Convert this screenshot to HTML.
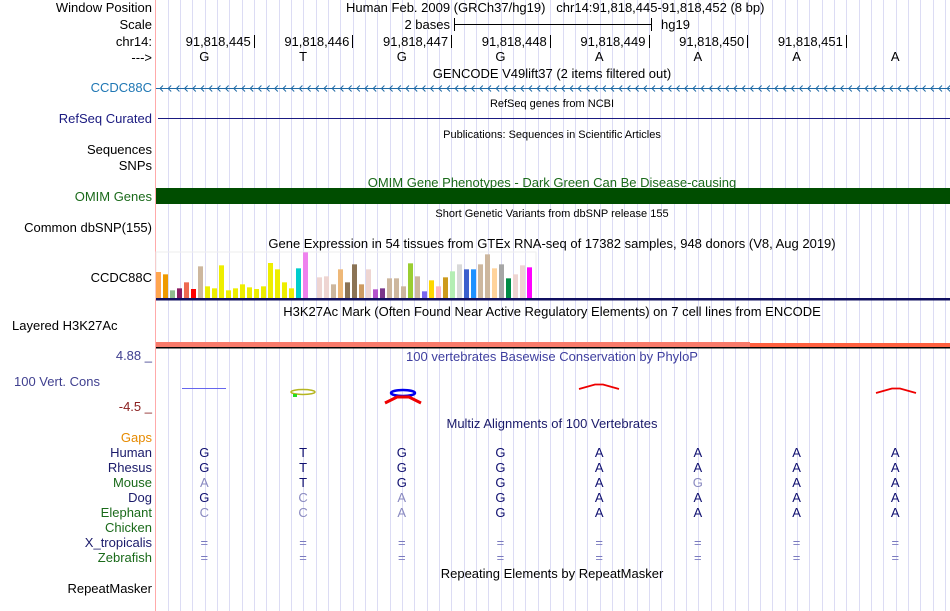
<!DOCTYPE html>
<html><head><meta charset="utf-8">
<style>
html,body{margin:0;padding:0;background:#fff;}
svg{display:block;font-family:"Liberation Sans",Arial,sans-serif;}
</style></head>
<body>
<svg id="c" width="950" height="611" viewBox="0 0 950 611">
<g id="grid"></g>
<line x1="155.5" y1="0" x2="155.5" y2="611" stroke="#ffaaaa"/>

<g font-size="13" text-anchor="end">
<text x="152" y="12" fill="#000">Window Position</text>
<text x="152" y="29" fill="#000">Scale</text>
<text x="152" y="46" fill="#000">chr14:</text>
<text x="152" y="62" fill="#000">---&gt;</text>
<text x="152" y="92" fill="#1f77b4">CCDC88C</text>
<text x="152" y="123" fill="#1a1a80">RefSeq Curated</text>
<text x="152" y="154" fill="#000">Sequences</text>
<text x="152" y="170" fill="#000">SNPs</text>
<text x="152" y="201" fill="#1a6a1a">OMIM Genes</text>
<text x="152" y="232" fill="#000">Common dbSNP(155)</text>
<text x="152" y="282" fill="#000">CCDC88C</text>
<text x="12" y="330" text-anchor="start" fill="#000">Layered H3K27Ac</text>
<text x="152" y="360" fill="#3f3f8f">4.88 _</text>
<text x="100" y="386" fill="#3f3f8f">100 Vert. Cons</text>
<text x="152" y="411" fill="#8b2020">-4.5 _</text>
<text x="152" y="442" fill="#e68a00">Gaps</text>
<text x="152" y="457" fill="#1a1a6a">Human</text>
<text x="152" y="472" fill="#1a1a6a">Rhesus</text>
<text x="152" y="487" fill="#1a6a1a">Mouse</text>
<text x="152" y="502" fill="#1a1a6a">Dog</text>
<text x="152" y="517" fill="#1a6a1a">Elephant</text>
<text x="152" y="532" fill="#1a6a1a">Chicken</text>
<text x="152" y="547" fill="#1a1a6a">X_tropicalis</text>
<text x="152" y="562" fill="#1a6a1a">Zebrafish</text>
<text x="152" y="593" fill="#000">RepeatMasker</text>
</g>

<text x="346" y="12" font-size="13">Human Feb. 2009 (GRCh37/hg19)&#160;&#160;&#160;chr14:91,818,445-91,818,452 (8 bp)</text>
<text x="450" y="29" font-size="13" text-anchor="end">2 bases</text>
<line x1="454" y1="24.5" x2="651" y2="24.5" stroke="#000"/>
<line x1="454.5" y1="18" x2="454.5" y2="31" stroke="#000"/>
<line x1="651.5" y1="18" x2="651.5" y2="31" stroke="#000"/>
<text x="661" y="29" font-size="13">hg19</text>
<g id="ruler" font-size="13"></g>
<g id="bases" font-size="13" text-anchor="middle"></g>

<g font-size="13" text-anchor="middle">
<text x="552" y="78">GENCODE V49lift37 (2 items filtered out)</text>
<text x="552" y="107" font-size="11">RefSeq genes from NCBI</text>
<text x="552" y="138" font-size="11">Publications: Sequences in Scientific Articles</text>
<text x="552" y="187" fill="#1a6a1a">OMIM Gene Phenotypes - Dark Green Can Be Disease-causing</text>
<text x="552" y="217" font-size="11">Short Genetic Variants from dbSNP release 155</text>
<text x="552" y="248">Gene Expression in 54 tissues from GTEx RNA-seq of 17382 samples, 948 donors (V8, Aug 2019)</text>
<text x="552" y="316">H3K27Ac Mark (Often Found Near Active Regulatory Elements) on 7 cell lines from ENCODE</text>
<text x="552" y="361" fill="#3f3f9f">100 vertebrates Basewise Conservation by PhyloP</text>
<text x="552" y="428" fill="#1a1a6a">Multiz Alignments of 100 Vertebrates</text>
<text x="552" y="578">Repeating Elements by RepeatMasker</text>
</g>
<line x1="156" y1="88.5" x2="950" y2="88.5" stroke="#1f6aa5"/>
<g id="chev" stroke="#1f6aa5" fill="none"></g>
<line x1="158" y1="118.5" x2="950" y2="118.5" stroke="#1a1a80"/>
<rect x="156" y="188" width="794" height="16" fill="#004d00"/>
<rect x="156" y="252" width="380" height="47" fill="none" stroke="#eee"/>
<g id="gtex"></g>
<rect x="156" y="298" width="794" height="2.5" fill="#101060"/>
<rect x="156" y="342" width="594" height="5" fill="#f87a6a"/>
<rect x="750" y="343" width="200" height="4" fill="#ff6040"/>
<rect x="156" y="347" width="794" height="1.5" fill="#000"/>

<g>
<line x1="182" y1="388.5" x2="226" y2="388.5" stroke="#6666ee" stroke-width="1"/>
<ellipse cx="303" cy="392" rx="12" ry="2.5" fill="none" stroke="#b5b520" stroke-width="1.5"/>
<rect x="293" y="394" width="4" height="3" fill="#22dd22"/>
<ellipse cx="403" cy="393" rx="12" ry="3" fill="none" stroke="#0000ee" stroke-width="2.5"/>
<path d="M385 403 L397 397 L409 397 L421 403" fill="none" stroke="#ee0000" stroke-width="3"/>
<path d="M579 389 L595 384.5 L603 384.5 L619 389" fill="none" stroke="#ee0000" stroke-width="1.8"/>
<path d="M876 393 L892 388.5 L900 388.5 L916 393" fill="none" stroke="#ee0000" stroke-width="1.8"/>
</g>
<g id="multiz" font-size="13" text-anchor="middle"></g>
</svg>
<script>
const tissueValues = [78,71,23,29,47,27,95,35,29,98,23,29,41,32,27,35,105,86,47,29,89,137,0,62,65,41,86,47,101,41,86,26,29,59,59,35,104,65,20,53,35,62,80,101,86,86,101,131,89,101,59,71,98,92];
const tissueColors = ["#ffa54f","#ee9a00","#8fbc8f","#8b1c62","#ee6a50","#ff0000","#cdb79e","#eeee00","#eeee00","#eeee00","#eeee00","#eeee00","#eeee00","#eeee00","#eeee00","#eeee00","#eeee00","#eeee00","#eeee00","#eeee00","#00cdcd","#ee82ee","#eeeeee","#eed5d2","#eed5d2","#cdb79e","#eeb878","#8b7355","#8b7355","#cd9b62","#eed5d2","#b452cd","#7a378b","#cdb79e","#cdb79e","#cdb79e","#9acd32","#cdb79e","#7b68ee","#ffd700","#ffb6c1","#cd9b1d","#b4eeb4","#d9d9d9","#3a5fcd","#1e90ff","#cdb79e","#cdb79e","#ffd39b","#a6a6a6","#008b45","#eed5d2","#eed5d2","#ff00ff"];
const refBases = ["G","T","G","G","A","A","A","A"];
const rulerLabels = ["91,818,445","91,818,446","91,818,447","91,818,448","91,818,449","91,818,450","91,818,451"];
const species = ["Human","Rhesus","Mouse","Dog","Elephant","Chicken","X_tropicalis","Zebrafish"];
const alignRows = ["GTGGAAAA","GTGGAAAA","ATGGAGAA","GCAGAAAA","CCAGAAAA","        ","========","========"];

const NS='http://www.w3.org/2000/svg';
function mk(tag,attrs,parent){const e=document.createElementNS(NS,tag);for(const k in attrs)e.setAttribute(k,attrs[k]);parent.appendChild(e);return e;}
const baseW=98.7, x0=155;
function xBase(i){return x0+baseW*i+baseW/2;}
const grid=document.getElementById('grid');
for(let x=155.3+12.34;x<950;x+=12.34){
  const l=mk('line',{x1:Math.round(x)+0.5,x2:Math.round(x)+0.5,y1:0,y2:611,stroke:'#dcdcf4'},grid);
  
  
}
const ruler=document.getElementById('ruler');
rulerLabels.forEach((t,i)=>{
  const tx=x0+baseW*(i+1);
  const te=mk('text',{x:tx-3,y:46,'text-anchor':'end'},ruler);te.textContent=t;
  
  
  const l=mk('line',{x1:Math.round(tx)+0.5,x2:Math.round(tx)+0.5,y1:35,y2:48,stroke:'#000'},ruler);
  
  
});
const bases=document.getElementById('bases');
refBases.forEach((b,i)=>{
  const te=mk('text',{x:xBase(i),y:61},bases);te.textContent=b;
  
  
});
const chev=document.getElementById('chev');
for(let x=160;x<948;x+=8.2){
  const p=mk('path',{d:`M${x+3} 85.5 L${x} 88.5 L${x+3} 91.5`},chev);
  
  
}
const gtex=document.getElementById('gtex');
const yBase=298, yScale=v=>v/3;
tissueValues.forEach((v,i)=>{
  const h=yScale(v);
  const r=mk('rect',{x:156+i*7,y:yBase-h,width:5,height:h,fill:tissueColors[i]},gtex);
  
  
});
const mz=document.getElementById('multiz');
alignRows.forEach((row,r)=>{
  for(let i=0;i<8;i++){
    const ch=row[i]; if(ch===' ') continue;
    const match=ch===refBases[i];
    const fill= ch==='=' ? '#7a7abf' : (match ? '#101070' : '#8a8ac0');
    const te=mk('text',{x:xBase(i),y:457+r*15,fill:fill},mz);te.textContent=ch;
    
    
  }
});
</script>
</body></html>
